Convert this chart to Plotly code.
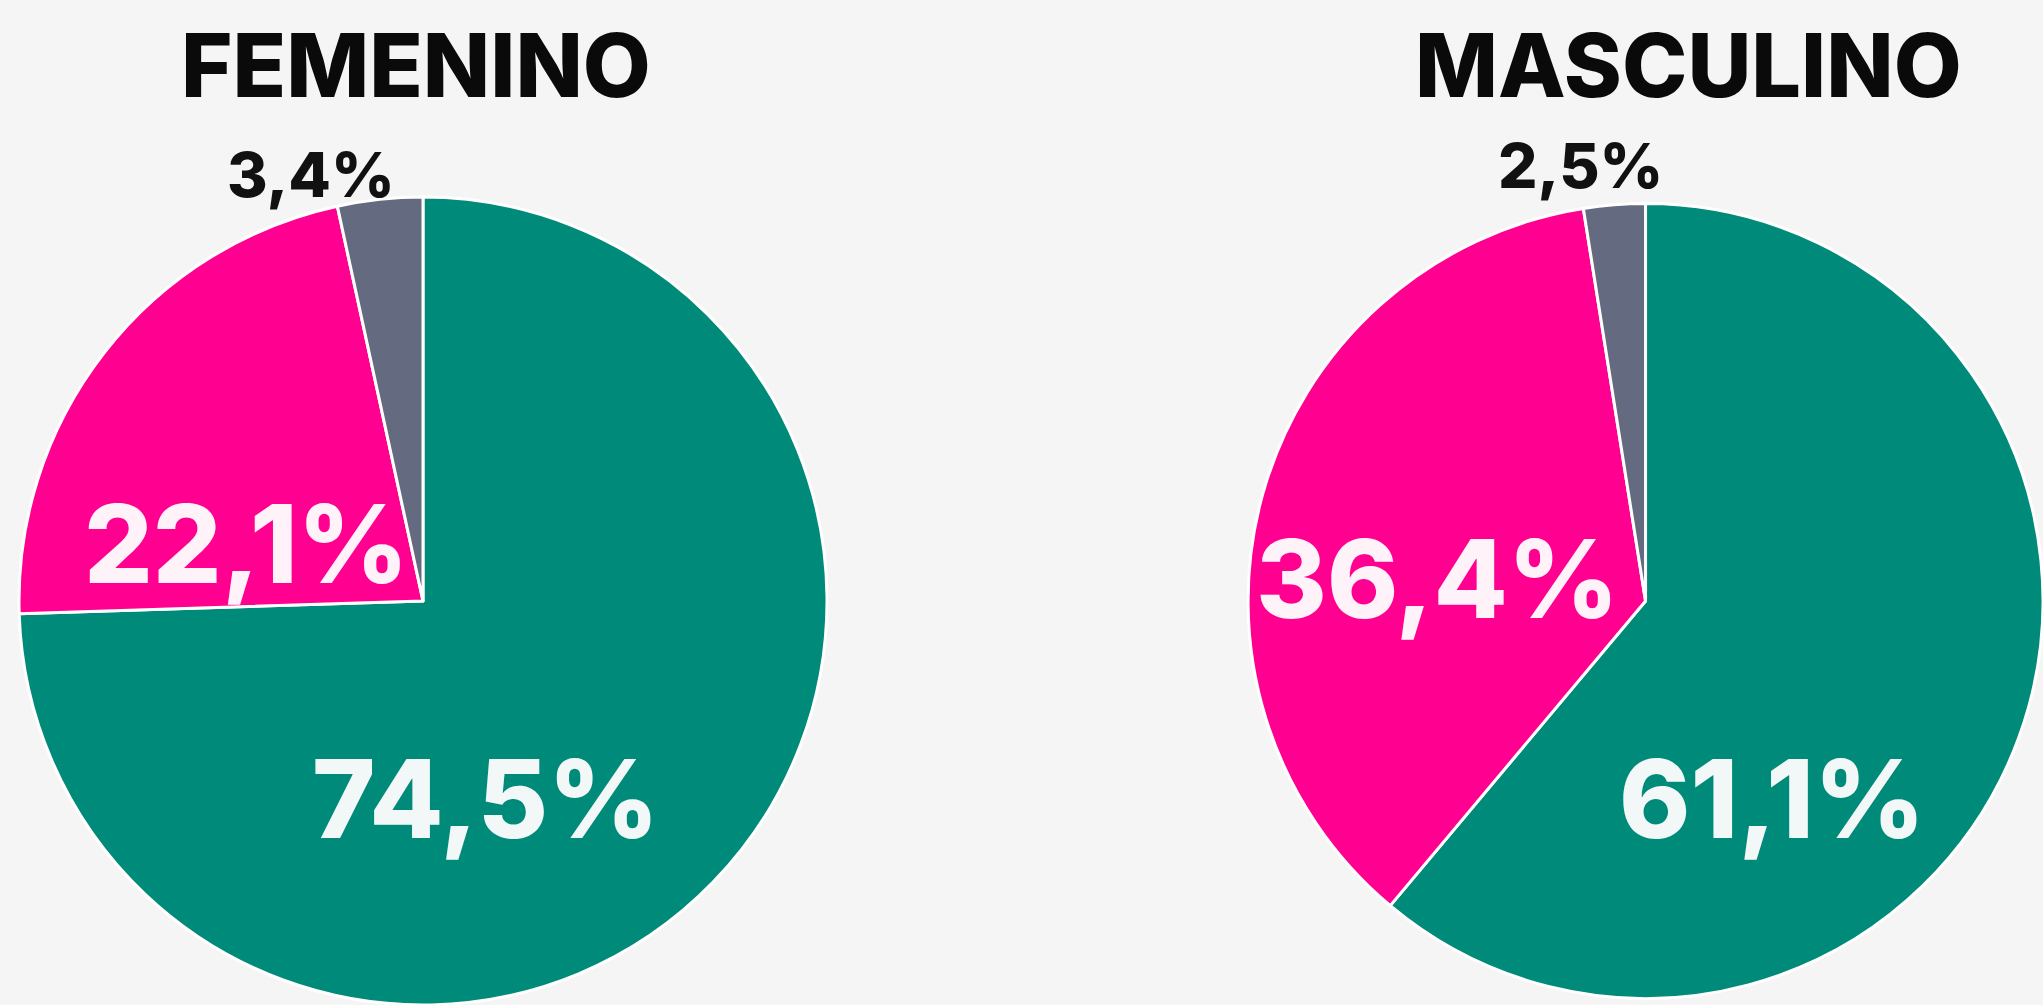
import plotly.graph_objects as go

# Données
categories = ["Opción A", "Opción B", "Otros"]
femenino = [74.5, 22.1, 3.4]
masculino = [61.1, 36.4, 2.5]
titulos = ["FEMENINO", "MASCULINO"]

colores = ["#008a79", "#ff0090", "#646b80"]
police = "Inter, Lato, Roboto, sans-serif"


def fmt(v):
    return f"{v:.1f}".replace(".", ",") + "%"


fig = go.Figure()

# Camembert féminin
fig.add_trace(go.Pie(
    labels=categories,
    values=femenino,
    sort=False,
    direction="clockwise",
    rotation=0,
    marker=dict(colors=colores, line=dict(color="white", width=3)),
    textinfo="none",
    hoverinfo="label+percent",
    domain=dict(x=[0.0093, 0.4048], y=[0.0, 0.804]),
    showlegend=False,
))

# Camembert masculin
fig.add_trace(go.Pie(
    labels=categories,
    values=masculino,
    sort=False,
    direction="clockwise",
    rotation=0,
    marker=dict(colors=colores, line=dict(color="white", width=3)),
    textinfo="none",
    hoverinfo="label+percent",
    domain=dict(x=[0.6109, 1.0], y=[0.0, 0.804]),
    showlegend=False,
))

# Titres et étiquettes
annotations = []
for titre, xc in zip(titulos, [0.2036, 0.8263]):
    annotations.append(dict(
        text=titre, x=xc, y=0.9358, xref="paper", yref="paper",
        showarrow=False, xanchor="center", yanchor="middle",
        font=dict(family=police, size=88, color="#0a0a0a", weight=800),
    ))

# positions des étiquettes (grande, moyenne, petite)
pos_f = [(0.2374, 0.2055), (0.1209, 0.4592), (0.1522, 0.8259)]
pos_m = [(0.8674, 0.2050), (0.7034, 0.4239), (0.7734, 0.8358)]
couleurs_txt = ["#f2f8f7", "#fff2f9", "#111111"]
tailles = [108, 108, 62]

for vals, pos in [(femenino, pos_f), (masculino, pos_m)]:
    for v, (px, py), c, s in zip(vals, pos, couleurs_txt, tailles):
        annotations.append(dict(
            text=fmt(v), x=px, y=py, xref="paper", yref="paper",
            showarrow=False, xanchor="center", yanchor="middle",
            font=dict(family=police, size=s, color=c, weight=800),
        ))

fig.update_layout(
    width=2043,
    height=1005,
    margin=dict(l=0, r=0, t=0, b=0),
    paper_bgcolor="#f5f5f5",
    plot_bgcolor="#f5f5f5",
    annotations=annotations,
)

# marge du body à zéro pour coller au cadre
fig.write_html(
    "out.html",
    config={"displayModeBar": False},
    post_script="document.body.style.margin='0';document.body.style.overflow='hidden';",
)
